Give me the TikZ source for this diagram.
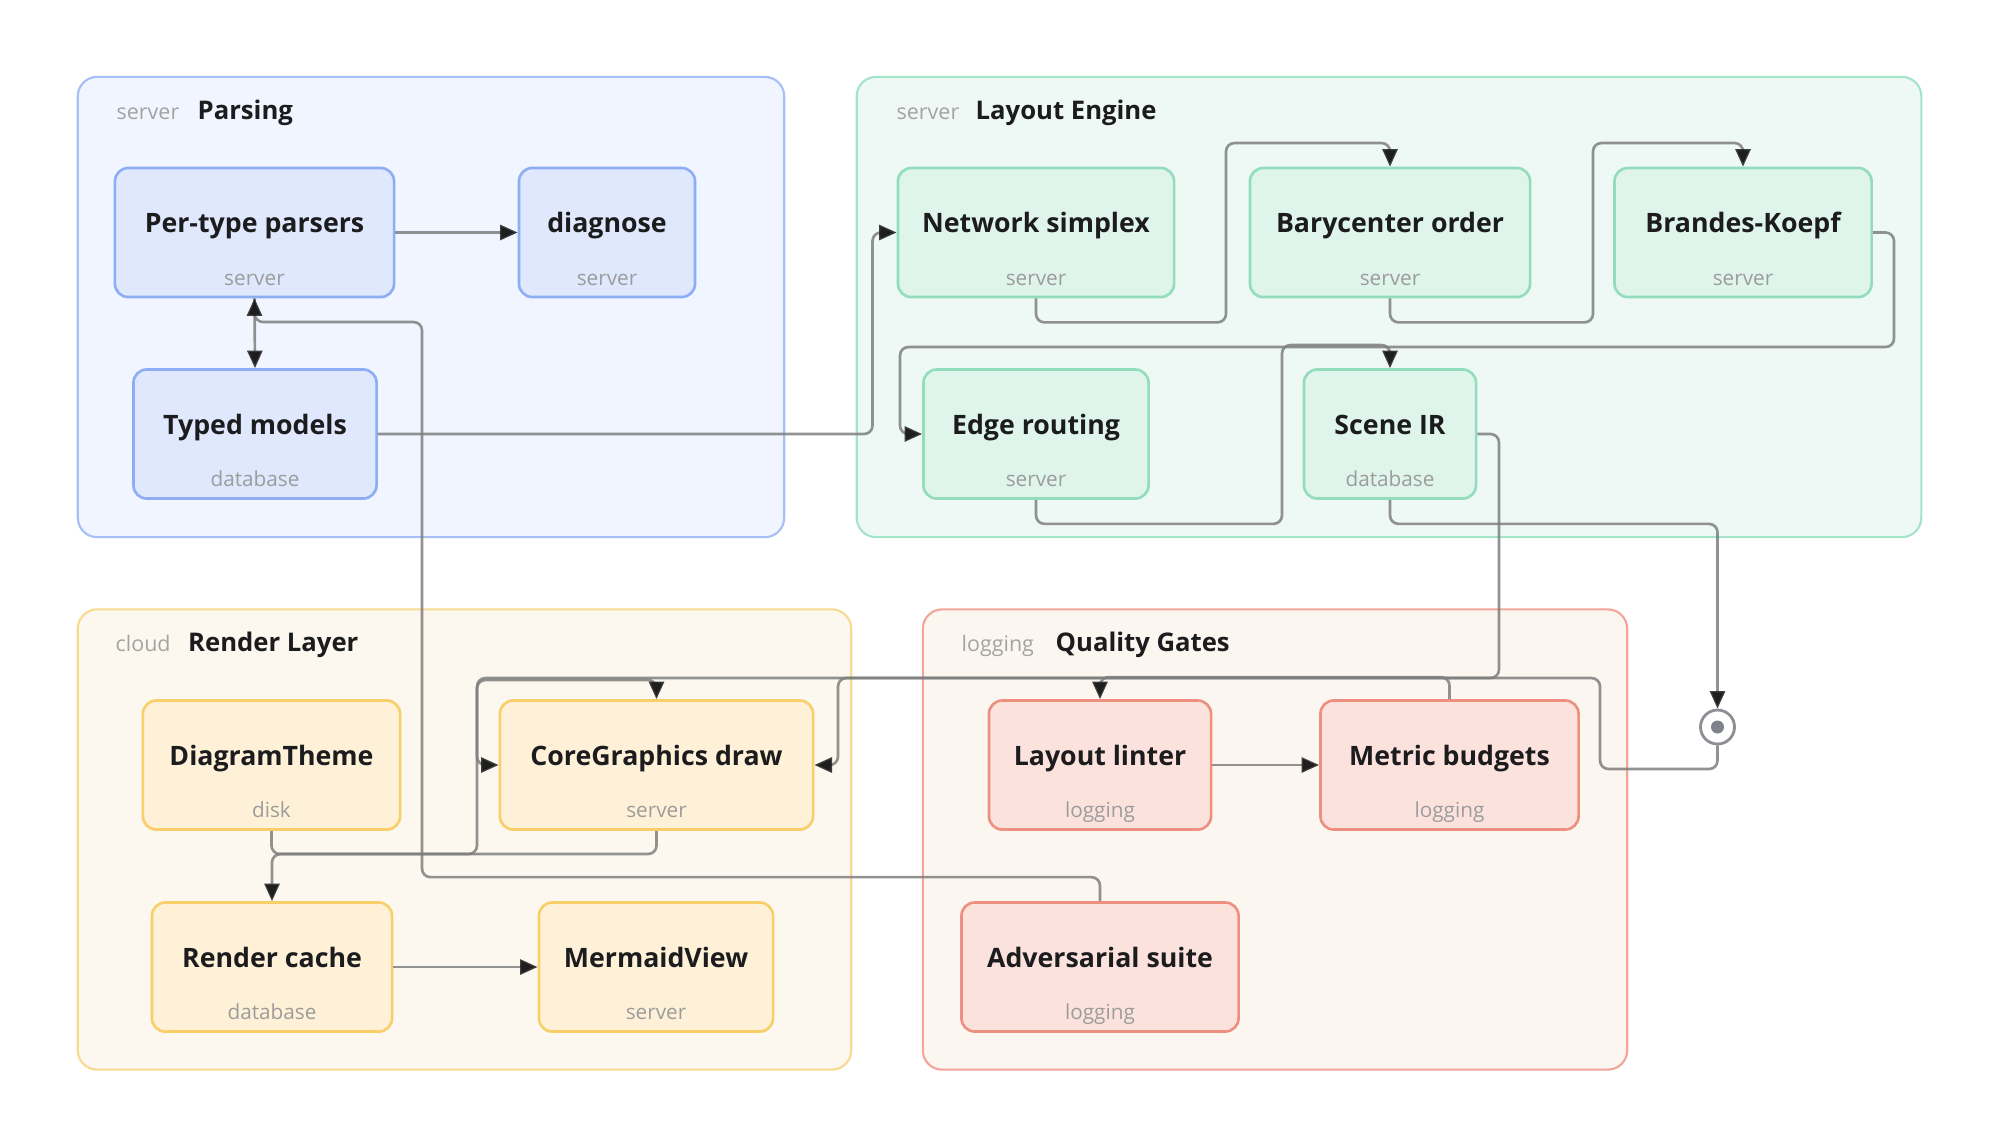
\documentclass[tikz,border=0pt]{standalone}
\usepackage{fontspec}
\setmainfont{Open Sans}
\usetikzlibrary{arrows.meta}

\definecolor{pgfill}{HTML}{F0F5FF}
\definecolor{pgline}{HTML}{A6BFF6}
\definecolor{pfill}{HTML}{DFE8FC}
\definecolor{pline}{HTML}{8DAEF4}
\definecolor{lgfill}{HTML}{EEF8F5}
\definecolor{lgline}{HTML}{A6E4C9}
\definecolor{lfill}{HTML}{DFF5EB}
\definecolor{lline}{HTML}{93DDBD}
\definecolor{rgfill}{HTML}{FCF8EF}
\definecolor{rgline}{HTML}{F8DA90}
\definecolor{rfill}{HTML}{FEF1D8}
\definecolor{rline}{HTML}{F8CF68}
\definecolor{qgfill}{HTML}{FCF6F1}
\definecolor{qgline}{HTML}{F2A699}
\definecolor{qfill}{HTML}{FCE2DD}
\definecolor{qline}{HTML}{EE9080}
\definecolor{ink}{HTML}{1C1C1E}
\definecolor{subc}{HTML}{9C9C9C}
\definecolor{tagc}{HTML}{A3A3A3}
\definecolor{linec}{HTML}{7F7F7F}
\definecolor{tipc}{HTML}{1E1E1E}
\definecolor{ringc}{HTML}{8C8F94}
\definecolor{dotc}{HTML}{7E838B}

\begin{document}
\begin{tikzpicture}[x=0.01cm, y=-0.01cm,
    grp/.style={draw, line width=0.6pt, rounded corners=5.5pt, inner sep=0pt, minimum height=4.6cm},
    comp/.style={draw, line width=0.75pt, rounded corners=3.8pt, inner sep=0pt, minimum height=1.29cm},
    ttl/.style={font=\bfseries\fontsize{7.6}{9}\selectfont, text=ink, text height=0.1cm, text depth=0.1cm},
    sub/.style={font=\fontsize{5.9}{7}\selectfont, text=subc, anchor=base, yshift=0.13cm},
    gtag/.style={font=\fontsize{6.1}{7}\selectfont, text=tagc, anchor=base west, inner sep=0pt},
    ghead/.style={font=\bfseries\fontsize{7.3}{9}\selectfont, text=ink, anchor=base west, inner sep=0pt},
    link/.style={draw=linec, draw opacity=0.85, line width=0.75pt, rounded corners=2.4pt,
        -{Triangle[length=5pt,width=4.3pt,color=tipc]}},
]
    \useasboundingbox (0,0) rectangle (2000,1147);

    \node[grp, fill=pgfill, draw=pgline, minimum width=7.06cm] (parsing) at (431,307) {};
    \node[grp, fill=lgfill, draw=lgline, minimum width=10.64cm] (layout) at (1389,307) {};
    \node[grp, fill=rgfill, draw=rgline, minimum width=7.73cm] (render) at (464.5,839.5) {};
    \node[grp, fill=qgfill, draw=qgline, minimum width=7.04cm] (quality) at (1275,839.5) {};

    \node[gtag] (parsing-tag) at (116,119) {server};
    \node[ghead] (parsing-head) at (197,119) {Parsing};
    \node[gtag] (layout-tag) at (896,119) {server};
    \node[ghead] (layout-head) at (975,119) {Layout Engine};
    \node[gtag] (render-tag) at (115,651) {cloud};
    \node[ghead] (render-head) at (187.5,651) {Render Layer};
    \node[gtag] (quality-tag) at (961,651) {logging};
    \node[ghead] (quality-head) at (1055,651) {Quality Gates};

    \node[comp, fill=pfill, draw=pline, minimum width=2.79cm,
        label={[ttl]center:Per-type parsers}, label={[sub]south:server}] (pp) at (254.5,232.5) {};
    \node[comp, fill=pfill, draw=pline, minimum width=1.76cm,
        label={[ttl]center:diagnose}, label={[sub]south:server}] (diag) at (607,232.5) {};
    \node[comp, fill=pfill, draw=pline, minimum width=2.43cm,
        label={[ttl]center:Typed models}, label={[sub]south:database}] (tm) at (255,434) {};

    \node[comp, fill=lfill, draw=lline, minimum width=2.76cm,
        label={[ttl]center:Network simplex}, label={[sub]south:server}] (ns) at (1036,232.5) {};
    \node[comp, fill=lfill, draw=lline, minimum width=2.80cm,
        label={[ttl]center:Barycenter order}, label={[sub]south:server}] (bo) at (1390,232.5) {};
    \node[comp, fill=lfill, draw=lline, minimum width=2.57cm,
        label={[ttl]center:Brandes-Koepf}, label={[sub]south:server}] (bk) at (1743,232.5) {};
    \node[comp, fill=lfill, draw=lline, minimum width=2.25cm,
        label={[ttl]center:Edge routing}, label={[sub]south:server}] (er) at (1036,434) {};
    \node[comp, fill=lfill, draw=lline, minimum width=1.72cm,
        label={[ttl]center:Scene IR}, label={[sub]south:database}] (sir) at (1390,434) {};

    \node[comp, fill=rfill, draw=rline, minimum width=2.57cm,
        label={[ttl]center:DiagramTheme}, label={[sub]south:disk}] (dt) at (271.5,765) {};
    \node[comp, fill=rfill, draw=rline, minimum width=3.13cm,
        label={[ttl]center:CoreGraphics draw}, label={[sub]south:server}] (cg) at (656.5,765) {};
    \node[comp, fill=rfill, draw=rline, minimum width=2.40cm,
        label={[ttl]center:Render cache}, label={[sub]south:database}] (rc) at (272,967) {};
    \node[comp, fill=rfill, draw=rline, minimum width=2.34cm,
        label={[ttl]center:MermaidView}, label={[sub]south:server}] (mv) at (656,967) {};

    \node[comp, fill=qfill, draw=qline, minimum width=2.22cm,
        label={[ttl]center:Layout linter}, label={[sub]south:logging}] (ll) at (1100,765) {};
    \node[comp, fill=qfill, draw=qline, minimum width=2.58cm,
        label={[ttl]center:Metric budgets}, label={[sub]south:logging}] (mb) at (1449.5,765) {};
    \node[comp, fill=qfill, draw=qline, minimum width=2.77cm,
        label={[ttl]center:Adversarial suite}, label={[sub]south:logging}] (as) at (1100,967) {};

    \node[circle, draw=ringc, line width=0.8pt, fill=white, minimum size=0.34cm, inner sep=0pt] (done) at (1717.5,727) {};
    \fill[dotc] (done) circle (0.065cm);

    \draw[link] (pp.east) -- (diag.west);
    \draw[link] (pp.south) -- (tm.north);
    \draw[link] (tm.east) -- (872.5,434) |- (ns.west);
    \draw[link] (ns.south) -- ++(0,24) -| (1226,143) -| (bo.north);
    \draw[link] (bo.south) -- ++(0,24) -| (1593,143) -| (bk.north);
    \draw[link] (bk.east) -| (1894,347) -| (900,434) -- (er.west);
    \draw[link] (er.south) -- ++(0,24) -| (1282,345) -| (sir.north);
    \draw[link] (sir.south) -- ++(0,24) -| (done.north);
    \draw[link] (sir.east) -| (1499,678) -| (838,765) -- (cg.east);
    \draw[link] (done.south) |- (1600,769) |- (477,678) |- (cg.west);
    \draw[link] (dt.south) |- (477,854) |- (656.5,680) -- (cg.north);
    \draw[link] (cg.south) |- (272,854) -- (rc.north);
    \draw[link] (rc.east) -- (mv.west);
    \draw[link] (ll.east) -- (mb.west);
    \draw[link] (mb.north) -- ++(0,-22) -| (ll.north);
    \draw[link] (as.north) -- ++(0,-24) -| (422,322) -| (pp.south);
\end{tikzpicture}
\end{document}
